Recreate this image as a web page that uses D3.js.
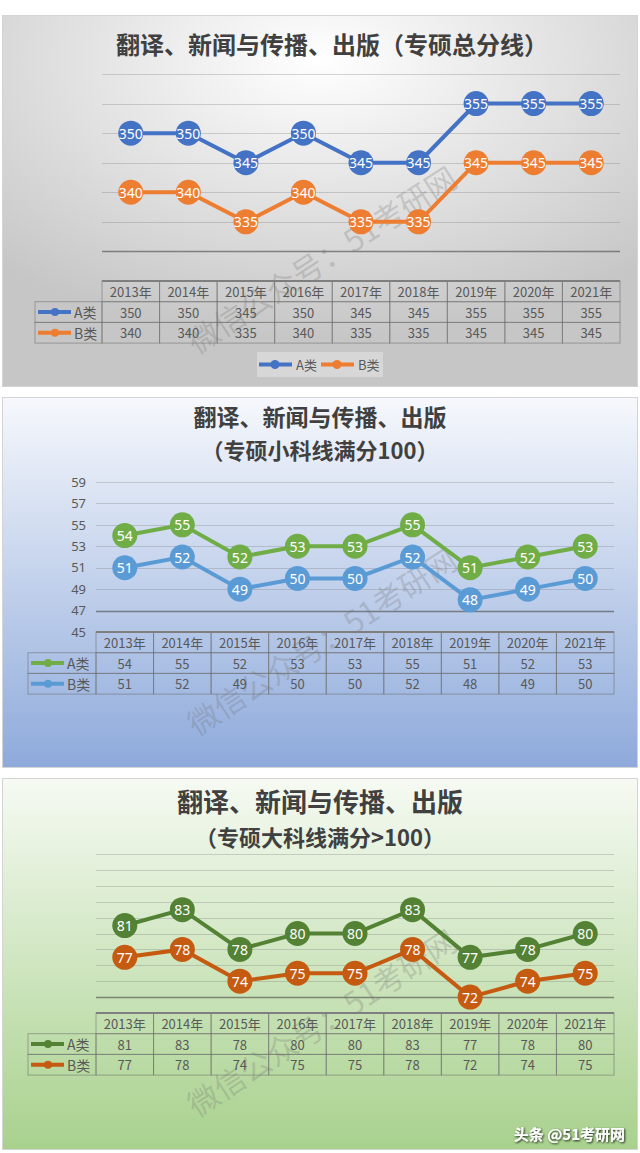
<!DOCTYPE html>
<html>
<head>
<meta charset="utf-8">
<script src="https://cdn.jsdelivr.net/npm/d3@7"></script>
<style>
  body { margin: 0; background: #fff; }
  svg { display: block; }
  text { font-family: "Noto Sans CJK SC", "Noto Sans", sans-serif; }
</style>
</head>
<body>
<div id="chart"></div>
<script>
// data
var years = ["2013年", "2014年", "2015年", "2016年", "2017年", "2018年", "2019年", "2020年", "2021年"];
var seriesNames = ["A类", "B类"];

var totalA = [350, 350, 345, 350, 345, 345, 355, 355, 355];
var totalB = [340, 340, 335, 340, 335, 335, 345, 345, 345];

var smallA = [54, 55, 52, 53, 53, 55, 51, 52, 53];
var smallB = [51, 52, 49, 50, 50, 52, 48, 49, 50];
var smallTicks = [45, 47, 49, 51, 53, 55, 57, 59];

var bigA = [81, 83, 78, 80, 80, 83, 77, 78, 80];
var bigB = [77, 78, 74, 75, 75, 78, 72, 74, 75];

var width = 640, height = 1153;

var svg = d3.select("#chart").append("svg")
    .attr("width", width)
    .attr("height", height);

var defs = svg.append("defs");

var g1 = defs.append("radialGradient").attr("id", "bg1")
    .attr("cx", "50%").attr("cy", "12%").attr("r", "75%");
g1.append("stop").attr("offset", "0%").attr("stop-color", "#ffffff");
g1.append("stop").attr("offset", "100%").attr("stop-color", "#c6c6c6");

var g2 = defs.append("linearGradient").attr("id", "bg2")
    .attr("x1", 0).attr("y1", 0).attr("x2", 0).attr("y2", 1);
g2.append("stop").attr("offset", "0%").attr("stop-color", "#f6f8fc");
g2.append("stop").attr("offset", "100%").attr("stop-color", "#8eaadb");

var g3 = defs.append("linearGradient").attr("id", "bg3")
    .attr("x1", 0).attr("y1", 0).attr("x2", 0).attr("y2", 1);
g3.append("stop").attr("offset", "0%").attr("stop-color", "#f6faf3");
g3.append("stop").attr("offset", "100%").attr("stop-color", "#a8d18d");

var shadow = defs.append("filter").attr("id", "shadow")
    .attr("x", "-10%").attr("y", "-30%").attr("width", "120%").attr("height", "160%");
shadow.append("feDropShadow")
    .attr("dx", 1).attr("dy", 1).attr("stdDeviation", 0.8)
    .attr("flood-color", "#000").attr("flood-opacity", 0.85);

var panels = [
    {
        top: 15, bottom: 386, fill: "url(#bg1)",
        titleX: 332, titles: [{ text: "翻译、新闻与传播、出版（专硕总分线）", y: 45, size: 24 }],
        x0: 102, x1: 620,
        domain: [325, 360], yTop: 74, tableTop: 281,
        grid: d3.range(330, 361, 5), ticks: null,
        labelX: 35,
        series: [totalA, totalB],
        colors: ["#4472c4", "#ed7d31"],
        r: 12.5, legend: true
    },
    {
        top: 397, bottom: 767, fill: "url(#bg2)",
        titleX: 320, titles: [{ text: "翻译、新闻与传播、出版", y: 418, size: 23 },
                 { text: "（专硕小科线满分100）", y: 451, size: 22 }],
        x0: 96, x1: 614,
        domain: [45, 59], yTop: 482, tableTop: 632,
        grid: smallTicks.slice(1), ticks: smallTicks,
        labelX: 28,
        series: [smallA, smallB],
        colors: ["#70ad47", "#5b9bd5"],
        r: 12.5, legend: false
    },
    {
        top: 778, bottom: 1149, fill: "url(#bg3)",
        titleX: 320, titles: [{ text: "翻译、新闻与传播、出版", y: 803, size: 26 },
                 { text: "（专硕大科线满分>100）", y: 838, size: 22 }],
        x0: 96, x1: 614,
        domain: [70, 90], yTop: 854, tableTop: 1013,
        grid: d3.range(72, 91, 2), ticks: null,
        labelX: 28,
        series: [bigA, bigB],
        colors: ["#548235", "#c55a11"],
        r: 12.5, legend: false
    }
];

var drawPanel = function(p) {
    var g = svg.append("g");

    g.append("rect")
        .attr("x", 2.5).attr("y", p.top + 0.5)
        .attr("width", 635).attr("height", p.bottom - p.top)
        .attr("fill", p.fill)
        .attr("stroke", "#d4d4d4");

    // title lines as tspans of one text
    var title = g.append("text")
        .attr("text-anchor", "middle")
        .attr("font-weight", "bold")
        .attr("fill", "#404040");
    p.titles.forEach(function(t) {
        title.append("tspan")
            .attr("x", p.titleX).attr("y", t.y + t.size * 0.36)
            .attr("font-size", t.size)
            .text(t.text);
    });

    var x = d3.scaleBand().domain(years).range([p.x0, p.x1]);
    var y = d3.scaleLinear().domain(p.domain).range([p.tableTop, p.yTop]);
    var cx = function(i) { return x(years[i]) + x.bandwidth() / 2; };

    // gridlines, lowest one darker
    g.selectAll(".grid").data(p.grid).enter().append("line")
        .attr("x1", p.x0).attr("x2", p.x1)
        .attr("y1", function(d) { return Math.round(y(d)) + 0.5; })
        .attr("y2", function(d) { return Math.round(y(d)) + 0.5; })
        .attr("stroke", function(d, i) { return i == 0 ? "rgba(70,70,70,0.6)" : "rgba(120,120,120,0.3)"; })
        .attr("stroke-width", function(d, i) { return i == 0 ? 1.3 : 1; });

    if (p.ticks) {
        var axis = d3.axisLeft(y).tickValues(p.ticks).tickSize(0).tickPadding(0);
        var ax = g.append("g").attr("transform", "translate(86,0)").call(axis);
        ax.select(".domain").remove();
        ax.selectAll("text")
            .attr("font-size", 13)
            .attr("fill", "#595959")
            .style("font-family", "'Noto Sans', sans-serif");
    }

    // watermark
    g.append("text")
        .attr("transform", "translate(197," + (p.top + 340) + ") rotate(-33)")
        .attr("font-size", 31)
        .attr("fill", "rgba(110,110,110,0.26)")
        .text("微信公众号：51考研网");

    // table
    var rh = 20.7;
    var tb = g.append("g");
    var cellStroke = "rgba(110,110,110,0.55)";
    years.forEach(function(yr, i) {
        for (var row = 0; row < 3; row++) {
            tb.append("rect")
                .attr("x", x(yr)).attr("y", p.tableTop + row * rh)
                .attr("width", x.bandwidth()).attr("height", rh)
                .attr("fill", "none").attr("stroke", cellStroke);
        }
        tb.append("text")
            .attr("x", cx(i)).attr("y", p.tableTop + rh / 2)
            .attr("text-anchor", "middle").attr("dominant-baseline", "central")
            .attr("font-size", 13).attr("fill", "#595959")
            .text(yr);
        p.series.forEach(function(s, k) {
            tb.append("text")
                .attr("x", cx(i)).attr("y", p.tableTop + (k + 1.5) * rh)
                .attr("text-anchor", "middle").attr("dominant-baseline", "central")
                .attr("font-size", 13).attr("fill", "#595959")
                .text(s[i]);
        });
    });
    p.series.forEach(function(s, k) {
        var ry = p.tableTop + (k + 1) * rh;
        tb.append("rect")
            .attr("x", p.labelX).attr("y", ry)
            .attr("width", p.x0 - p.labelX).attr("height", rh)
            .attr("fill", "none").attr("stroke", cellStroke);
        var ly = ry + rh / 2;
        tb.append("line")
            .attr("x1", p.labelX + 3).attr("x2", p.labelX + 36)
            .attr("y1", ly).attr("y2", ly)
            .attr("stroke", p.colors[k]).attr("stroke-width", 4);
        tb.append("circle")
            .attr("cx", p.labelX + 20).attr("cy", ly).attr("r", 4)
            .attr("fill", p.colors[k]);
        tb.append("text")
            .attr("x", p.labelX + 39).attr("y", ly)
            .attr("dominant-baseline", "central")
            .attr("font-size", 14).attr("fill", "#595959")
            .text(seriesNames[k]);
    });
    tb.append("line")
        .attr("x1", p.x0).attr("x2", p.x1)
        .attr("y1", p.tableTop).attr("y2", p.tableTop)
        .attr("stroke", "#7f7f7f").attr("stroke-width", 2);

    // lines + bubbles
    var line = d3.line()
        .x(function(d, i) { return cx(i); })
        .y(function(d) { return y(d); });

    p.series.forEach(function(s, k) {
        g.append("path")
            .datum(s)
            .attr("d", line)
            .attr("fill", "none")
            .attr("stroke", p.colors[k])
            .attr("stroke-width", 4);
    });
    p.series.forEach(function(s, k) {
        var pts = g.append("g").selectAll("g").data(s).enter().append("g")
            .attr("transform", function(d, i) { return "translate(" + cx(i) + "," + y(d) + ")"; });
        pts.append("circle")
            .attr("r", p.r)
            .attr("fill", p.colors[k]);
        pts.append("text")
            .attr("text-anchor", "middle")
            .attr("dominant-baseline", "central")
            .attr("font-size", 14)
            .attr("fill", "#fff")
            .style("font-family", "'Noto Sans', sans-serif")
            .text(function(d) { return d; });
    });

    if (p.legend) {
        var lg = g.append("g");
        lg.append("rect")
            .attr("x", 257).attr("y", 352).attr("width", 126).attr("height", 25)
            .attr("fill", "rgba(255,255,255,0.3)");
        seriesNames.forEach(function(name, k) {
            var lx = 259 + k * 62;
            lg.append("line")
                .attr("x1", lx).attr("x2", lx + 33)
                .attr("y1", 364.5).attr("y2", 364.5)
                .attr("stroke", p.colors[k]).attr("stroke-width", 4);
            lg.append("circle")
                .attr("cx", lx + 16).attr("cy", 364.5).attr("r", 4.5)
                .attr("fill", p.colors[k]);
            lg.append("text")
                .attr("x", lx + 37).attr("y", 364.5)
                .attr("dominant-baseline", "central")
                .attr("font-size", 13).attr("fill", "#595959")
                .text(name);
        });
    }
};

panels.forEach(drawPanel);

// source mark, bottom right
svg.append("text")
    .attr("x", 625).attr("y", 1133)
    .attr("text-anchor", "end").attr("dominant-baseline", "central")
    .attr("font-size", 15).attr("font-weight", "bold")
    .attr("fill", "#fff")
    .attr("filter", "url(#shadow)")
    .text("头条 @51考研网");
</script>
</body>
</html>
